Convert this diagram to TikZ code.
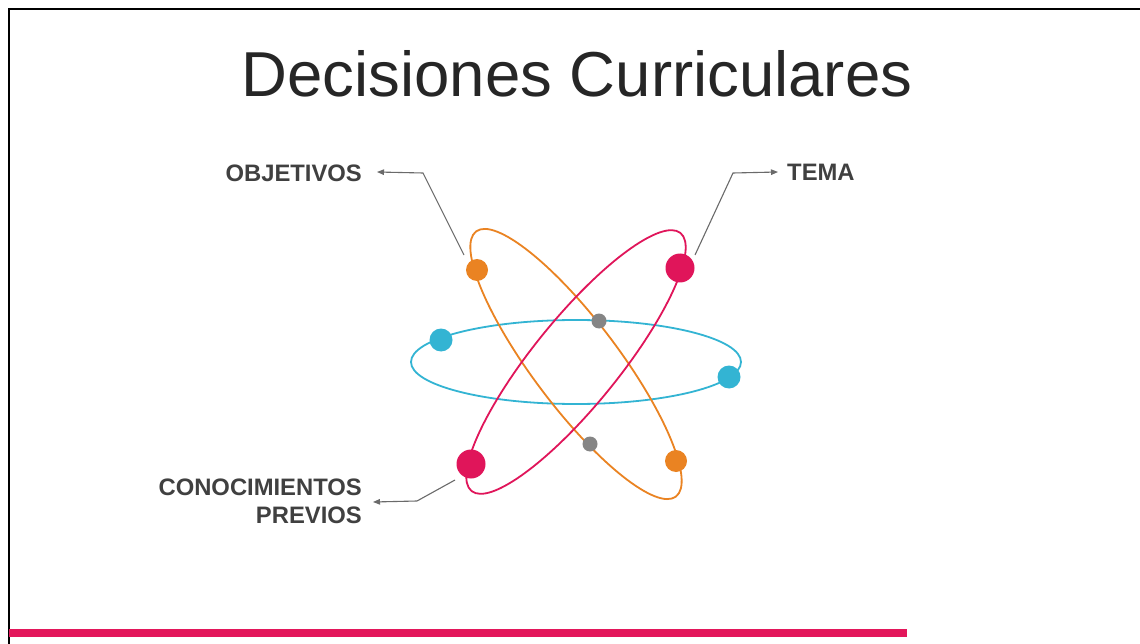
\documentclass[tikz,border=0pt]{standalone}
\usepackage{fontspec}
\setmainfont{Liberation Sans}
\usetikzlibrary{arrows.meta}
\definecolor{orangeC}{HTML}{EA8322}
\definecolor{magentaC}{HTML}{E0155A}
\definecolor{cyanC}{HTML}{33B4D3}
\definecolor{grayDot}{HTML}{858585}
\definecolor{labelC}{HTML}{404040}
\definecolor{titleC}{HTML}{262626}
\definecolor{leadC}{HTML}{6A6A6A}
\definecolor{barC}{HTML}{E3175B}
\begin{document}
\begin{tikzpicture}[x=1pt,y=-1pt,
  orbit/.style={line width=1.8pt},
  dot/.style={circle, inner sep=0pt, draw=none},
  lbl/.style={font=\fontsize{23.8}{28}\selectfont\bfseries, text=labelC, inner sep=0pt},
  lead/.style={draw=leadC, line width=1.1pt, -{Triangle[length=7pt,width=5.5pt]}}]
\useasboundingbox (0,0) rectangle (1140,644);
\fill[white] (0,0) rectangle (1140,644);
% frame and bar
\draw[line width=2pt, black] (9,644) -- (9,9) -- (1140,9);
\fill[barC] (9,629) rectangle (907,637);
% title
\node[anchor=base, inner sep=0pt, text=titleC, font=\fontsize{63.5}{70}\selectfont] (title) at (577,97) {Decisiones Curriculares};
% orbits
\draw[orbit, cyanC] (576,362) ellipse [x radius=165pt, y radius=42pt];
\draw[orbit, orangeC, rotate around={-53:(576,364)}] (576,364) ellipse [x radius=166pt, y radius=43pt];
\draw[orbit, magentaC, rotate around={51:(576,362)}] (576,362) ellipse [x radius=166pt, y radius=43pt];
% dots
\node[dot, fill=orangeC, minimum size=22pt] (o1) at (477,270) {};
\node[dot, fill=orangeC, minimum size=22pt] (o2) at (676,461) {};
\node[dot, fill=magentaC, minimum size=29pt] (m1) at (680,268) {};
\node[dot, fill=magentaC, minimum size=29pt] (m2) at (471,464) {};
\node[dot, fill=cyanC, minimum size=23pt] (c1) at (441,340) {};
\node[dot, fill=cyanC, minimum size=23pt] (c2) at (729,377) {};
\node[dot, fill=grayDot, minimum size=15pt] (g1) at (599,321) {};
\node[dot, fill=grayDot, minimum size=15pt] (g2) at (590,444) {};
% labels
\node[lbl, anchor=base east] (objL) at (362,182) {OBJETIVOS};
\node[lbl, anchor=base west] (temaL) at (787,181) {TEMA};
\node[lbl, anchor=base east] (conL) at (362,495) {CONOCIMIENTOS};
\node[lbl, anchor=base east] (preL) at (362,523) {PREVIOS};
% leader coordinates
\coordinate (objS) at (464,255);
\coordinate (objB) at (423,173);
\coordinate (objT) at (377,172);
\coordinate (temS) at (695,255);
\coordinate (temB) at (733,173);
\coordinate (temT) at (778,172);
\coordinate (conS) at (455,480);
\coordinate (conB) at (417,501);
\coordinate (conT) at (373,502);
\draw[lead] (objS) -- (objB) -- (objT);
\draw[lead] (temS) -- (temB) -- (temT);
\draw[lead] (conS) -- (conB) -- (conT);
\end{tikzpicture}
\end{document}
